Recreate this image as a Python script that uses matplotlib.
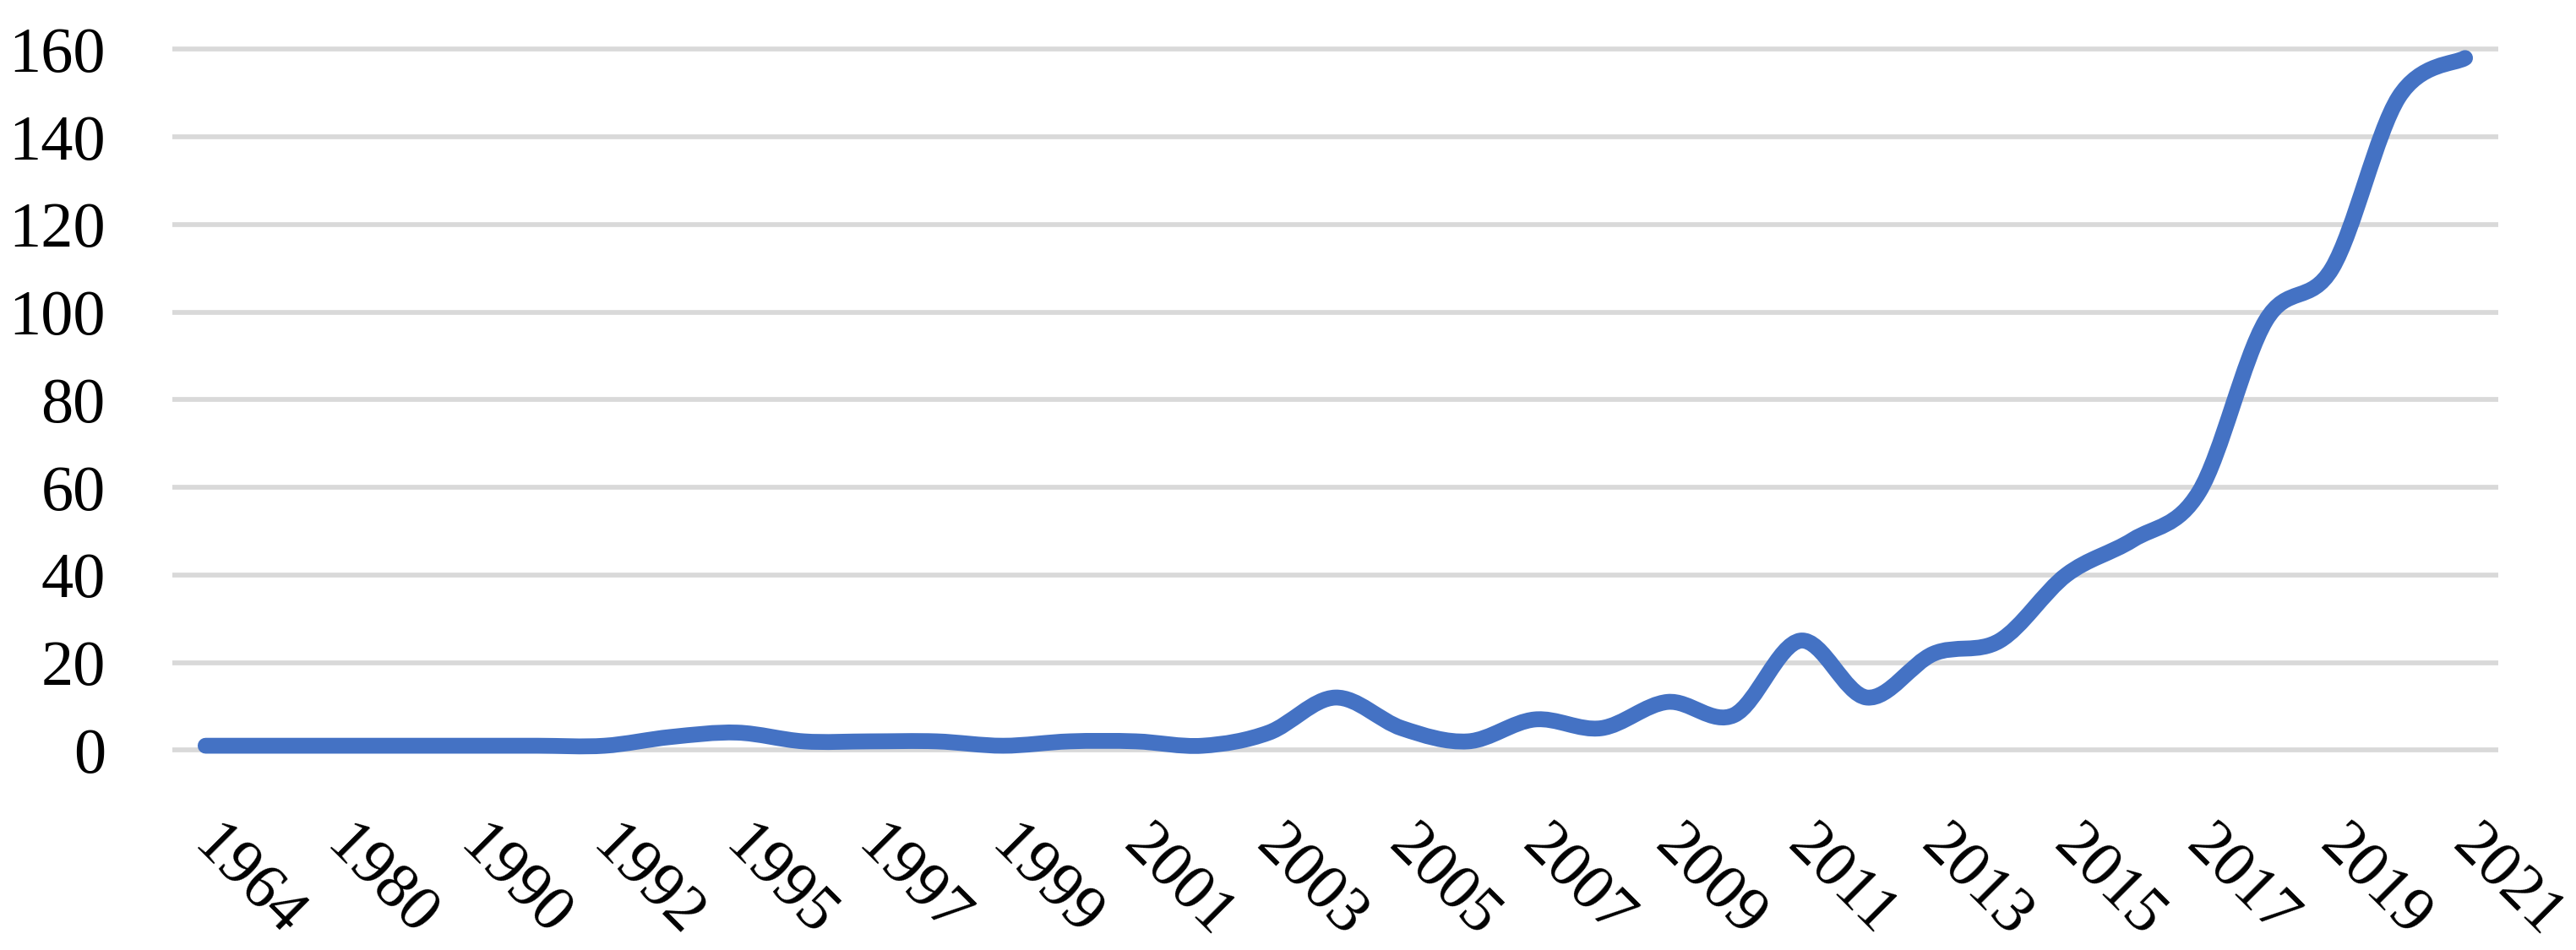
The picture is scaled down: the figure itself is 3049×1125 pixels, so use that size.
import matplotlib
matplotlib.use('Agg')
import matplotlib.pyplot as plt
from matplotlib.path import Path
from matplotlib.patches import PathPatch
from matplotlib.transforms import ScaledTranslation
import numpy as np

# ---- data ----
years = ['1964', '1979', '1980', '1985', '1990', '1991', '1992', '1994',
         '1995', '1996', '1997', '1998', '1999', '2000', '2001', '2002',
         '2003', '2004', '2005', '2006', '2007', '2008', '2009', '2010',
         '2011', '2012', '2013', '2014', '2015', '2016', '2017', '2018',
         '2019', '2020', '2021']
values = [1, 1, 1, 1, 1, 1, 1, 3,
          4, 2, 2, 2, 1, 2, 2, 1,
          4, 12, 5, 2, 7, 5, 11, 8,
          25, 12, 22, 25, 40, 48, 59, 98,
          110, 149, 158]
yticks = [0, 20, 40, 60, 80, 100, 120, 140, 160]

LINE_COLOR = '#4472C4'
GRID_COLOR = '#D9D9D9'
FONT = ['Liberation Serif', 'DejaVu Serif']

W, H, DPI = 3049, 1125, 100
fig = plt.figure(figsize=(W / DPI, H / DPI), dpi=DPI)
fig.patch.set_facecolor('white')

left, right = 204, 2957
y0, y160 = 888.3, 58.3
ax = fig.add_axes([left / W, (H - y0) / H, (right - left) / W, (y0 - y160) / H])
n = len(years)
ax.set_xlim(-0.5, n - 0.5)
ax.set_ylim(yticks[0], yticks[-1])
for s in ax.spines.values():
    s.set_visible(False)

# gridlines
ax.hlines(yticks, -0.5, n - 0.5, colors=GRID_COLOR, lw=4.1, clip_on=False, zorder=1)

# smoothed line (Bezier through data points, Excel-like smoothing)
x = np.arange(n, dtype=float)
y = np.array(values, dtype=float)
verts = [(x[0], y[0])]
codes = [Path.MOVETO]
for i in range(n - 1):
    im1 = max(i - 1, 0)
    ip2 = min(i + 2, n - 1)
    c1 = (x[i] + (x[i + 1] - x[im1]) / 6.0, y[i] + (y[i + 1] - y[im1]) / 6.0)
    c2 = (x[i + 1] - (x[ip2] - x[i]) / 6.0, y[i + 1] - (y[ip2] - y[i]) / 6.0)
    verts += [c1, c2, (x[i + 1], y[i + 1])]
    codes += [Path.CURVE4, Path.CURVE4, Path.CURVE4]
patch = PathPatch(Path(verts, codes), facecolor='none', edgecolor=LINE_COLOR,
                  lw=13.5, capstyle='round', joinstyle='round', zorder=3,
                  clip_on=False)
ax.add_patch(patch)

# y axis
ax.set_yticks(yticks)
ax.set_yticklabels([str(v) for v in yticks], fontfamily=FONT, fontsize=55)
ax.tick_params(axis='y', length=0, pad=57)

# x axis
ax.set_xticks(x[::2])
ax.set_xticklabels(years[::2], fontfamily=FONT, fontsize=55, rotation=-45,
                   rotation_mode='anchor', ha='left', va='top')
ax.tick_params(axis='x', length=0, pad=56)
shift = ScaledTranslation(20 / DPI, 0, fig.dpi_scale_trans)
for lab in ax.get_xticklabels():
    lab.set_transform(lab.get_transform() + shift)

fig.savefig('out.png', dpi=DPI, facecolor='white')
